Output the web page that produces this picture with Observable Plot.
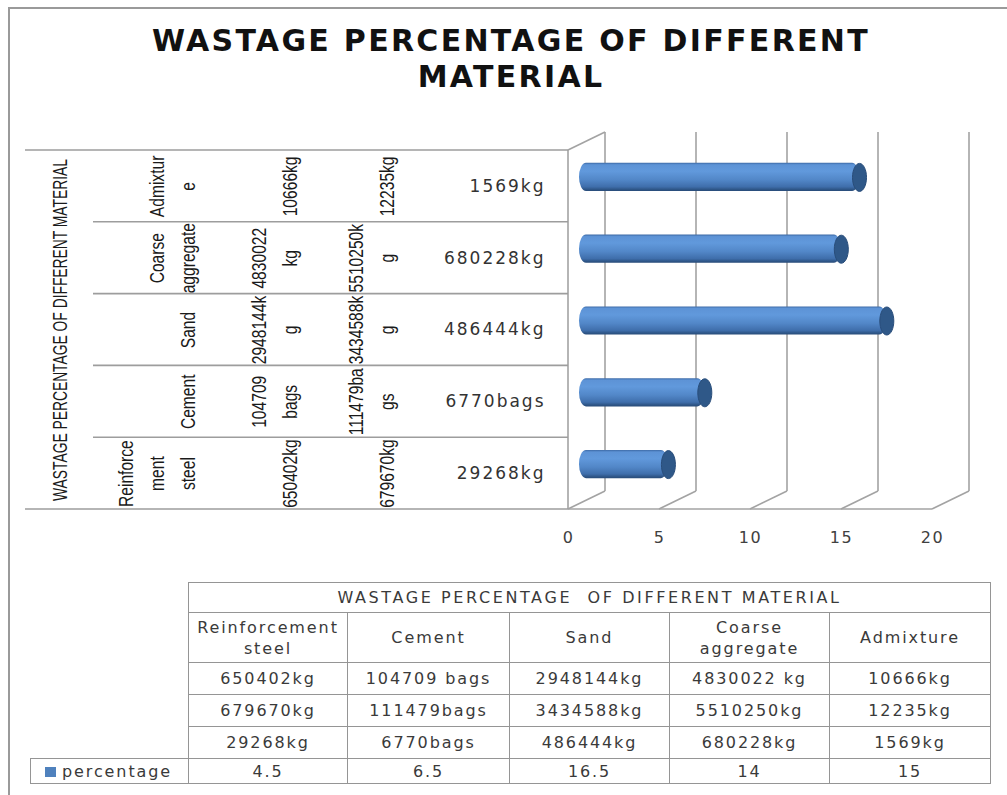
<!DOCTYPE html>
<html>
<head>
<meta charset="utf-8">
<script src="https://cdn.jsdelivr.net/npm/d3@7"></script>
<script src="https://cdn.jsdelivr.net/npm/@observablehq/plot@0.6"></script>
<style>
  html, body { margin: 0; padding: 0; background: #fff; }
  #wrap { position: relative; width: 1007px; height: 795px; overflow: hidden; background: #fff; }
  #frame { position: absolute; left: 8px; top: 7px; width: 1010px; height: 800px;
           border-top: 2px solid #9a9a9a; border-left: 2px solid #9a9a9a; box-sizing: border-box; }
  #title { position: absolute; left: 15px; width: 992px; top: 23px; text-align: center;
           font-family: "DejaVu Sans", sans-serif; font-weight: bold; font-size: 30px;
           line-height: 36px; letter-spacing: 2.3px; color: #111; }
  #chart { position: absolute; left: 0; top: 110px; }
  #chart svg { overflow: visible; }
  #chart text { letter-spacing: 1.5px; }
  #chart g[font-family^="Liberation Sans"] text { letter-spacing: 0; }
  #chart g[font-size="17"] text { letter-spacing: 2px; }
  #datatable { position: absolute; left: 30px; top: 582px; border-collapse: collapse; table-layout: fixed;
               font-family: "DejaVu Sans", sans-serif; font-size: 16px; letter-spacing: 1.9px; color: #3a3a3a; }
  #datatable td { border: 1.5px solid #959595; text-align: center; padding: 0; line-height: 21px; white-space: nowrap; }
  #datatable td.blank { border: none; }
  #datatable td.legend { text-align: left; padding-left: 14px; }
  .swatch { display: inline-block; width: 11px; height: 10px; background: #4f81bd; margin-right: 6px; vertical-align: 0px; }
</style>
</head>
<body>
<div id="wrap">
  <div id="frame"></div>
  <div id="title">WASTAGE PERCENTAGE OF DIFFERENT<br>MATERIAL</div>
  <div id="chart"></div>
  <table id="datatable"></table>
</div>
<script>
// ---------------- data ----------------
const chartTitle = "WASTAGE PERCENTAGE OF DIFFERENT MATERIAL";
const categories = ["Reinforcement steel", "Cement", "Sand", "Coarse aggregate", "Admixture"];
const categoryAxisLines = [["Reinforce", "ment", "steel"], ["Cement"], ["Sand"], ["Coarse", "aggregate"], ["Admixtur", "e"]];
const tableCategoryLines = [["Reinforcement", "steel"], ["Cement"], ["Sand"], ["Coarse", "aggregate"], ["Admixture"]];
const quantityA = ["650402kg", "104709 bags", "2948144kg", "4830022 kg", "10666kg"];
const quantityAAxis = [["650402kg"], ["104709", "bags"], ["2948144k", "g"], ["4830022", "kg"], ["10666kg"]];
const quantityB = ["679670kg", "111479bags", "3434588kg", "5510250kg", "12235kg"];
const quantityBAxis = [["679670kg"], ["111479ba", "gs"], ["3434588k", "g"], ["5510250k", "g"], ["12235kg"]];
const wastage = ["29268kg", "6770bags", "486444kg", "680228kg", "1569kg"];
const percentage = [4.5, 6.5, 16.5, 14, 15];
const xTicks = [0, 5, 10, 15, 20];
const seriesName = "percentage";

const rows = categories.map((c, i) => ({
  cat: c,
  axisName: categoryAxisLines[i].join("\n"),
  qa: quantityAAxis[i].join("\n"),
  qb: quantityBAxis[i].join("\n"),
  waste: wastage[i],
  pct: percentage[i]
}));

// ---------------- 3D look helpers ----------------
const DEPTH_X = 37, DEPTH_Y = -18;
const BAR_DX = 18, BAR_DY = -9;
const CAP_RX = 7, CAP_RY = 14;

const ellipseSymbol = {
  draw(ctx) {
    const k = 0.5523, rx = CAP_RX, ry = CAP_RY;
    ctx.moveTo(rx, 0);
    ctx.bezierCurveTo(rx, ry * k, rx * k, ry, 0, ry);
    ctx.bezierCurveTo(-rx * k, ry, -rx, ry * k, -rx, 0);
    ctx.bezierCurveTo(-rx, -ry * k, -rx * k, -ry, 0, -ry);
    ctx.bezierCurveTo(rx * k, -ry, rx, -ry * k, rx, 0);
    ctx.closePath();
  }
};

function defsMark() {
  const defs = d3.create("svg:defs");
  const g = defs.append("linearGradient").attr("id", "cyl").attr("x1", 0).attr("y1", 0).attr("x2", 0).attr("y2", 1);
  [[0, "#3d6aa6"], [0.07, "#5d93d6"], [0.3, "#6199dc"], [0.6, "#5287c8"], [0.85, "#3f6eab"], [0.94, "#2f5789"], [1, "#284b78"]]
    .forEach(([o, c]) => g.append("stop").attr("offset", o).attr("stop-color", c));
  return defs.node();
}

function wallsMark(index, scales, values, dims) {
  const x = scales.x;
  const top = dims.marginTop, bottom = dims.height - dims.marginBottom;
  const g = d3.create("svg:g").attr("fill", "none").attr("stroke", "#a3a3a3").attr("stroke-width", 1.6);
  const x0 = x(xTicks[0]), xN = x(xTicks[xTicks.length - 1]);
  for (const t of xTicks) {
    g.append("line").attr("x1", x(t) + DEPTH_X).attr("x2", x(t) + DEPTH_X)
      .attr("y1", top + DEPTH_Y).attr("y2", bottom + DEPTH_Y);
    g.append("line").attr("x1", x(t)).attr("y1", bottom)
      .attr("x2", x(t) + DEPTH_X).attr("y2", bottom + DEPTH_Y);
  }
  g.append("line").attr("x1", x0).attr("x2", xN).attr("y1", bottom).attr("y2", bottom);
  g.append("line").attr("x1", x0).attr("x2", x0).attr("y1", top).attr("y2", bottom);
  g.append("line").attr("x1", x0).attr("y1", top).attr("x2", x0 + DEPTH_X).attr("y2", top + DEPTH_Y);
  return g.node();
}

function categoryGridMark(index, scales, values, dims) {
  const y = scales.y;
  const L = dims.marginLeft;
  const top = dims.marginTop, bottom = dims.height - dims.marginBottom;
  const g = d3.create("svg:g").attr("fill", "none").attr("stroke", "#9d9d9d").attr("stroke-width", 1.6);
  const order = categories.slice().reverse();
  order.forEach((c, i) => {
    if (i === 0) return;
    const yy = y(c);
    g.append("line").attr("x1", L - 475).attr("x2", L).attr("y1", yy).attr("y2", yy);
  });
  g.append("line").attr("x1", L - 543).attr("x2", L).attr("y1", top).attr("y2", top);
  g.append("line").attr("x1", L - 543).attr("x2", L).attr("y1", bottom).attr("y2", bottom);
  return g.node();
}

const narrow = "Liberation Sans, Arial, sans-serif";
const BAND = (508 - 150) / 5;
const BAR_H = 2 * CAP_RY;
const rotatedText = { rotate: -90, textAnchor: "middle", lineAnchor: "bottom", lineHeight: 1.54, fontFamily: narrow, fontSize: 20, fill: "#1a1a1a", frameAnchor: "left" };

const chart = Plot.plot({
  width: 1007,
  height: 450,
  marginLeft: 568,
  marginRight: 75,
  marginTop: 40,
  marginBottom: 51,
  style: { background: "transparent", fontFamily: "DejaVu Sans, sans-serif", fontSize: "16px", color: "#404040", overflow: "visible" },
  x: { domain: [0, 20], ticks: xTicks, tickSize: 0, tickPadding: 22, label: null, tickFormat: d => String(d) },
  y: { type: "band", domain: categories.slice().reverse(), padding: 0, round: false, axis: null },
  marks: [
    defsMark,
    wallsMark,
    categoryGridMark,
    Plot.barX(rows, {
      x: "pct", y: "cat", fill: "url(#cyl)",
      insetTop: (BAND - BAR_H) / 2, insetBottom: (BAND - BAR_H) / 2, insetLeft: -CAP_RX,
      rx: CAP_RX, ry: CAP_RY, dx: BAR_DX, dy: BAR_DY
    }),
    Plot.dot(rows, {
      x: "pct", y: "cat", symbol: ellipseSymbol, r: 5,
      fill: "#2f5888", stroke: "#294d7a", strokeWidth: 1, dx: BAR_DX, dy: BAR_DY
    }),
    Plot.text([chartTitle], { ...rotatedText, text: d => d, dx: -502 }),
    Plot.text(rows, { ...rotatedText, y: "cat", text: "axisName", dx: -374 }),
    Plot.text(rows, { ...rotatedText, y: "cat", text: "qa", dx: -272 }),
    Plot.text(rows, { ...rotatedText, y: "cat", text: "qb", dx: -175 }),
    Plot.text(rows, {
      y: "cat", text: "waste", frameAnchor: "left", dx: -23, textAnchor: "end",
      fontFamily: "DejaVu Sans, sans-serif", fontSize: 17, fill: "#333"
    })
  ]
});
document.getElementById("chart").appendChild(chart);

// Narrow the rotated axis labels (Arial Narrow look)
d3.select(chart).selectAll('g[font-family^="Liberation Sans"] text').each(function () {
  const parts = this.querySelectorAll("tspan");
  const els = parts.length ? Array.from(parts) : [this];
  for (const el of els) {
    if (this.textContent === chartTitle) {
      el.setAttribute("textLength", 342);
    } else {
      const len = el.getComputedTextLength();
      if (len > 0) el.setAttribute("textLength", (len * 0.78).toFixed(1));
    }
    el.setAttribute("lengthAdjust", "spacingAndGlyphs");
  }
});

// ---------------- data table ----------------
const table = document.getElementById("datatable");
const colWidths = [158, 159, 162, 160, 160, 161];
const cg = document.createElement("colgroup");
colWidths.forEach(w => { const c = document.createElement("col"); c.style.width = w + "px"; cg.appendChild(c); });
table.appendChild(cg);
table.style.width = colWidths.reduce((a, b) => a + b, 0) + "px";

function addRow(height, cells) {
  const tr = document.createElement("tr");
  tr.style.height = height + "px";
  cells.forEach(c => {
    const td = document.createElement("td");
    if (c.cls) td.className = c.cls;
    if (c.span) td.colSpan = c.span;
    if (c.html !== undefined) td.innerHTML = c.html; else td.textContent = c.text || "";
    tr.appendChild(td);
  });
  table.appendChild(tr);
}
const esc = s => s.replace(/&/g, "&amp;").replace(/</g, "&lt;");
addRow(30, [{ cls: "blank" }, { span: 5, html: '<span style="letter-spacing:2.6px">' + esc(chartTitle).replace("PERCENTAGE OF", "PERCENTAGE&nbsp; OF") + "</span>" }]);
addRow(50, [{ cls: "blank" }, ...tableCategoryLines.map(l => ({ html: l.map(esc).join("<br>") }))]);
addRow(32, [{ cls: "blank" }, ...quantityA.map(t => ({ text: t }))]);
addRow(32, [{ cls: "blank" }, ...quantityB.map(t => ({ text: t }))]);
addRow(32, [{ cls: "blank" }, ...wastage.map(t => ({ text: t }))]);
addRow(25, [{ cls: "legend", html: '<span class="swatch"></span>' + esc(seriesName) }, ...percentage.map(v => ({ text: String(v) }))]);
</script>
</body>
</html>
